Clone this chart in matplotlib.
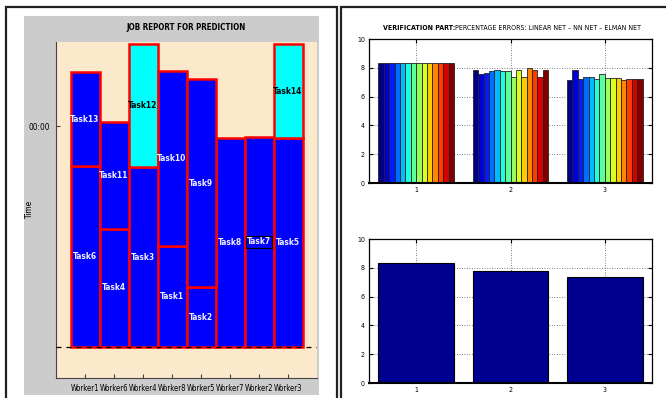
import matplotlib
matplotlib.use("Agg")
import matplotlib.pyplot as plt
from matplotlib.patches import Rectangle
import numpy as np

# job report data (time in arbitrary units, 0 = start)
workers = ['Worker1', 'Worker6', 'Worker4', 'Worker8', 'Worker5', 'Worker7', 'Worker2', 'Worker3']
low_tasks = ['Task6', 'Task4', 'Task3', 'Task1', 'Task2', 'Task8', 'Task7', 'Task5']
low_len = [18.1, 11.8, 18.0, 10.1, 6.0, 20.9, 21.0, 20.9]
up_tasks = ['Task13', 'Task11', 'Task12', 'Task10', 'Task9', '', '', 'Task14']
up_len = [9.4, 10.7, 12.3, 17.5, 20.8, 0, 0, 9.4]
predicted = ['Task12', 'Task14']
time_tick = 22.1

# verification errors
groups = [1, 2, 3]
err_g1 = [8.3] * 14
err_g2 = [7.88, 7.56, 7.61, 7.8, 7.83, 7.8, 7.8, 7.37, 7.87, 7.37, 7.99, 7.83, 7.37, 7.85]
err_g3 = [7.17, 7.85, 7.24, 7.36, 7.38, 7.24, 7.57, 7.27, 7.27, 7.27, 7.17, 7.24, 7.2, 7.2]
err_mean = [8.3, 7.77, 7.33]

plt.rcParams['font.family'] = ['DejaVu Sans']
plt.rcParams['font.stretch'] = 'condensed'

W, H = 666, 398
fig = plt.figure(figsize=(6.66, 3.98), dpi=100)


def frac(x0, y0, x1, y1):
    return [x0 / W, 1 - y1 / H, (x1 - x0) / W, (y1 - y0) / H]


# panel frames
fig.add_artist(Rectangle((24 / W, 1 - 395 / H), 295 / W, 379 / H,
                         transform=fig.transFigure, fc='#cccccc', ec='none', zorder=0))
fig.add_artist(Rectangle((6 / W, -0.05), 331 / W, 1 - 7 / H + 0.05,
                         transform=fig.transFigure, fill=False, ec='#222222', lw=1.6))
fig.add_artist(Rectangle((341 / W, -0.05), 0.6, 1 - 7 / H + 0.05,
                         transform=fig.transFigure, fill=False, ec='#222222', lw=1.6))

# ---- left: job report
ax = fig.add_axes(frac(56, 42, 317, 378))
ax.set_facecolor('#fce8cb')
x = np.arange(1, len(workers) + 1)
ax.bar(x, low_len, width=1.0, color='#0000ff', edgecolor='#ff0000', linewidth=1.8, zorder=2)
up_col = ['#00ffff' if t in predicted else '#0000ff' for t in up_tasks]
for xi, b, h, c in zip(x, low_len, up_len, up_col):
    if h > 0:
        ax.bar(xi, h, bottom=b, width=1.0, color=c, edgecolor='#ff0000', linewidth=1.8, zorder=2)
for xi, t, h in zip(x, low_tasks, low_len):
    kw = {}
    if t == 'Task7':
        kw['bbox'] = dict(fc='none', ec='black', lw=0.8, pad=1.0)
    ax.text(xi, h / 2, t, ha='center', va='center', color='#f0f0ff', fontsize=6,
            fontweight='bold', zorder=3, **kw)
for xi, t, b, h in zip(x, up_tasks, low_len, up_len):
    if h > 0:
        col = 'black' if t in predicted else '#f0f0ff'
        ax.text(xi, b + h / 2, t, ha='center', va='center', color=col, fontsize=6,
                fontweight='bold', zorder=3)
ax.axhline(0, color='black', ls=(0, (4, 4)), lw=0.9, zorder=4)
ax.set_xlim(0, 9)
ax.set_ylim(-3.1, 30.5)
ax.set_xticks(x)
ax.set_xticklabels(workers, fontsize=5.5)
ax.set_yticks([time_tick])
ax.set_yticklabels(['00:00'], fontsize=6)
ax.tick_params(direction='in', length=3, color='#444444', pad=4)
for s in ['top', 'right']:
    ax.spines[s].set_visible(False)
for s in ['left', 'bottom']:
    ax.spines[s].set_color('#444444')
ax.set_title('JOB REPORT FOR PREDICTION', fontsize=5.8, fontweight='bold', pad=9)
fig.text(30 / W, 1 - 210 / H, 'Time', rotation=90, ha='center', va='center', fontsize=6)


def matlab_axes(a):
    a.set_xlim(0.5, 3.5)
    a.set_ylim(0, 10)
    a.set_xticks(groups)
    a.set_yticks(range(0, 11, 2))
    a.tick_params(direction='in', length=3, labelsize=5, top=True, right=True, pad=3)
    a.grid(True, ls=(0, (1, 2)), color='#555555', lw=0.6)
    a.set_axisbelow(True)
    for s in a.spines.values():
        s.set_linewidth(0.9)
    a.spines['bottom'].set_linewidth(1.5)


# ---- right top: grouped errors
ax2 = fig.add_axes(frac(369, 39, 652, 183))
n = len(err_g1)
bw = 0.8 / n
cols = plt.cm.jet(np.linspace(0, 1, n))
data = np.array([err_g1, err_g2, err_g3])
for i in range(n):
    ax2.bar(np.array(groups) - 0.4 + bw * (i + 0.5), data[:, i], width=bw,
            color=cols[i], edgecolor='#222222', linewidth=0.6, zorder=2)
matlab_axes(ax2)
t1 = ax2.text(14 / 283, 1.076, 'VERIFICATION PART:', transform=ax2.transAxes,
              fontsize=5, fontweight='bold', ha='left', va='center')
ax2.annotate('PERCENTAGE ERRORS: LINEAR NET \u2013 NN NET \u2013 ELMAN NET',
             xy=(1, 0.5), xycoords=t1, fontsize=5, ha='left', va='center')

# ---- right bottom: mean errors
ax3 = fig.add_axes(frac(369, 239, 652, 383))
ax3.bar(groups, err_mean, width=0.8, color='#000090', edgecolor='black', linewidth=0.8, zorder=2)
matlab_axes(ax3)

fig.savefig('out.png', dpi=100)
